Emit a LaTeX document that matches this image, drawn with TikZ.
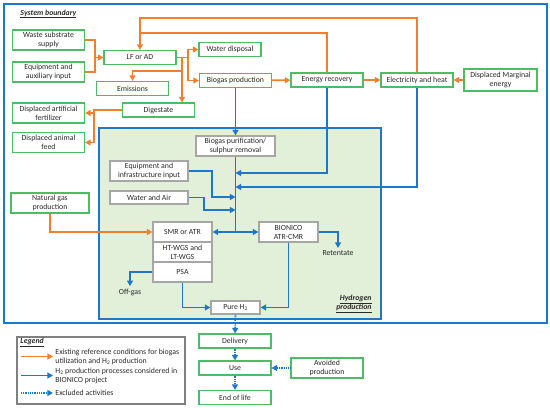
\documentclass[tikz,border=0pt]{standalone}
\usepackage{fontspec}
\setmainfont{Carlito}
\usepackage{xcolor}
\usetikzlibrary{arrows.meta, positioning}

\definecolor{sysblue}{HTML}{1F77C9}
\definecolor{refor}{HTML}{F07F30}
\definecolor{boxgreen}{HTML}{4DBD65}
\definecolor{boxgray}{HTML}{A6A6A6}
\definecolor{lggray}{HTML}{808080}
\definecolor{hfill}{HTML}{E2F0D9}
\definecolor{txtgray}{HTML}{2A2A2A}

\begin{document}
\begin{tikzpicture}[
  x=0.5mm, y=-0.5mm,
  font=\fontsize{11.1}{12.8}\selectfont,
  text=txtgray,
  gbox/.style={rectangle, draw=boxgreen, line width=0.55mm, fill=white, minimum width=36mm, minimum height=7mm, inner sep=1pt, align=center},
  tall/.style={minimum height=10mm},
  pbox/.style={rectangle, draw=boxgray, line width=0.6mm, fill=white, minimum width=29.5mm, minimum height=10mm, inner sep=1pt, align=center},
  oline/.style={draw=refor, line width=0.9mm},
  oarrow/.style={oline, -{Triangle[length=2.8mm,width=3mm]}},
  bline/.style={draw=sysblue, line width=0.9mm},
  barrow/.style={bline, -{Triangle[length=2.8mm,width=3mm]}},
  darrow/.style={barrow, dash pattern=on 0.45mm off 0.45mm},
  title/.style={font=\fontsize{11.1}{12.8}\selectfont\bfseries\itshape}
]
\useasboundingbox (0,0) rectangle (550,408);

% boundaries
\draw[sysblue, line width=0.75mm] (4,4) rectangle (547,323);
\draw[sysblue, line width=0.75mm, fill=hfill] (99,128) rectangle (381,319);
\node[title, anchor=west] at (18,14) {\underline{System boundary}};
\node[title, anchor=north east, align=right] at (374,293) {\underline{Hydrogen}\\\underline{production}};

% existing conditions
\node (waste) [gbox, tall] at (48.5,40) {Waste substrate\\supply};
\node (equip) [gbox, tall] at (48.5,72) {Equipment and\\auxiliary input};
\node (lfad) [gbox] at (140,57.5) {LF or AD};
\node (water) [gbox, minimum width=31mm] at (230,49.5) {Water disposal};
\node (biogas) [gbox] at (235.5,80.5) {Biogas production};
\node (emis) [gbox] at (132.5,88.5) {Emissions};
\node (dige) [gbox] at (158.5,110) {Digestate};
\node (fert) [gbox, tall] at (48.5,113) {Displaced artificial\\fertilizer};
\node (feed) [gbox, tall] at (48.5,142.5) {Displaced animal\\feed};
\node (enrec) [gbox] at (327,80) {Energy recovery};
\node (elec) [gbox] at (417,80) {Electricity and heat};
\node (marg) [gbox, minimum width=36.5mm, minimum height=11mm] at (500.5,80) {Displaced Marginal\\energy};
\node (natgas) [gbox, tall, minimum width=39mm] at (50,203) {Natural gas\\production};
\node (deliv) [gbox] at (235,341) {Delivery};
\node (use) [gbox] at (235,368) {Use};
\node (eol) [gbox] at (235,397.5) {End of life};
\node (avoid) [gbox, tall] at (327,368) {Avoided\\production};

% hydrogen production
\node (purif) [pbox, minimum width=39.5mm] at (235.5,146) {Biogas purification/\\sulphur removal};
\node (eqinf) [pbox, minimum width=39mm] at (149,171) {Equipment and\\infrastructure input};
\node (wair) [pbox, minimum width=39mm, minimum height=6.5mm] at (149,197.5) {Water and Air};
\node (smr) [pbox] at (182.5,232) {SMR or ATR};
\node (wgs) [pbox] at (182.5,252) {HT-WGS and\\LT-WGS};
\node (psa) [pbox] at (182.5,272) {PSA};
\node (cmr) [pbox] at (288.5,232) {BIONICO\\ATR-CMR};
\node (pure) [pbox, minimum width=24.5mm, minimum height=6.5mm] at (235.5,307.5) {Pure H\textsubscript{2}};
\node (offgas) at (130,292) {Off-gas};
\node (ret) at (338,253) {Retentate};

% orange flows
\coordinate (jin) at (95,57.5);
\coordinate (lfo) at (182,57.5);
\coordinate (lfs) at (188,57.5);
\coordinate (lfe) at (182,71);
\coordinate (dgs) at (94,110);
\draw[oline] (waste.east) -| (jin);
\draw[oline] (equip.east) -| (jin);
\draw[oarrow] (jin) -- (lfad.west);
\draw[oarrow] (elec.north) |- (lfad.north |- 0,18) -- (lfad.north);
\draw[oline] (enrec.north) |- (lfad.north |- 0,33);
\draw[oline] (lfad.east) -- (lfs);
\draw[oarrow] (lfs) |- (water.west);
\draw[oarrow] (lfs) |- (biogas.west);
\draw[oarrow] (lfo) -- (lfo |- dige.north);
\draw[oarrow] (lfe) -| (emis.north);
\draw[oline] (dige.west) -- (dgs) -- (dgs |- feed.east);
\draw[oarrow] (dgs |- fert.east) -- (fert.east);
\draw[oarrow] (dgs |- feed.east) -- (feed.east);
\draw[oarrow] (biogas) -- (enrec);
\draw[oarrow] (enrec) -- (elec);
\draw[oarrow] (marg) -- (elec);
\draw[oarrow] (natgas.south) |- (smr.west);

% blue flows
\coordinate (hub) at (235.5,232);
\draw[barrow] (biogas.south) -- (purif.north);
\draw[bline] (purif.south) -- (hub);
\draw[barrow] (hub) -- (smr.east);
\draw[barrow] (hub) -- (cmr.west);
\draw[barrow] (enrec.south) |- (hub |- 0,173);
\draw[barrow] (elec.south) |- (hub |- 0,187);
\draw[barrow] (eqinf.east) -| (212,197) -- (hub |- 0,197);
\draw[barrow] (wair.east) -| (204,210) -- (hub |- 0,210);
\draw[barrow] (psa.south) |- (pure.west);
\draw[barrow] (cmr.south) |- (pure.east);
\draw[barrow] (psa.west) -| (offgas.north);
\draw[barrow] (cmr.east) -| (ret.north);

% excluded
\draw[darrow] (pure) -- (deliv);
\draw[darrow] (deliv) -- (use);
\draw[darrow] (use) -- (eol);
\draw[darrow] (avoid) -- (use);

% legend
\draw[lggray, line width=0.7mm] (17,337) rectangle (185,404);
\node[title, anchor=west] at (18,342) {\underline{Legend}};
\node (lt1) [anchor=west, align=left] at (53,356.5) {Existing reference conditions for biogas\\utilization and H\textsubscript{2} production};
\node (lt2) [anchor=west, align=left] at (53,375.5) {H\textsubscript{2} production processes considered in\\BIONICO project};
\node (lt3) [anchor=west, align=left] at (53,393) {Excluded activities};
\coordinate (la1) at (21,356.5);
\coordinate (la2) at (21,375.5);
\coordinate (la3) at (21,393);
\draw[oarrow] (la1) -- (lt1.west);
\draw[barrow] (la2) -- (lt2.west);
\draw[darrow] (la3) -- (lt3.west);

\end{tikzpicture}
\end{document}
